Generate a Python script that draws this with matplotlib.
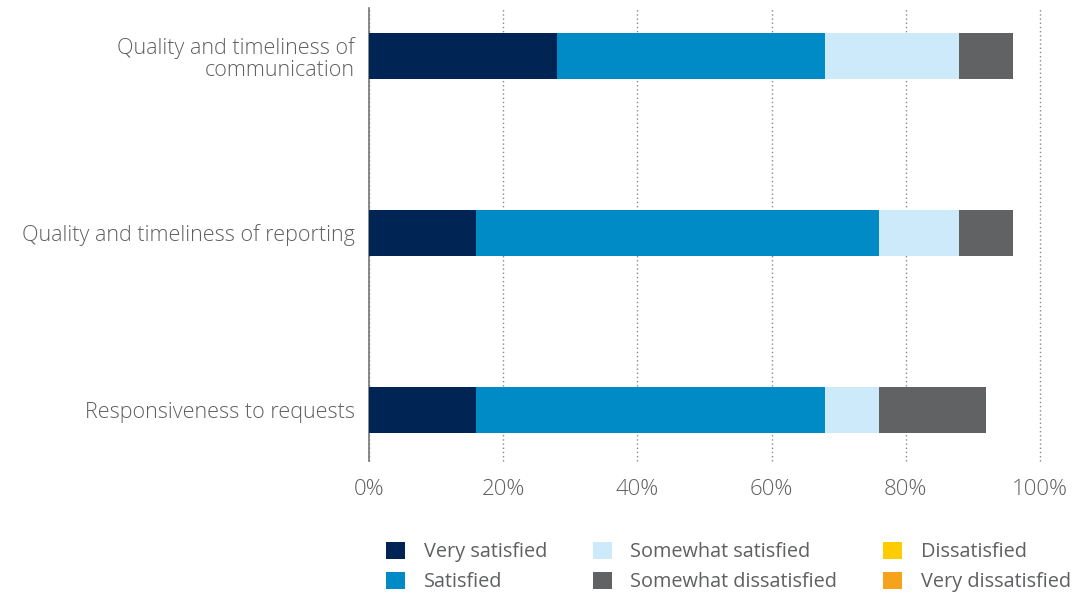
import matplotlib.pyplot as plt
from matplotlib.patches import Patch

plt.rcParams['font.family'] = ['Open Sans', 'DejaVu Sans']

categories = ['Quality and timeliness of\ncommunication',
              'Quality and timeliness of reporting',
              'Responsiveness to requests']
series = ['Very satisfied', 'Satisfied', 'Somewhat satisfied',
          'Somewhat dissatisfied', 'Dissatisfied', 'Very dissatisfied']
very_satisfied = [28, 16, 16]
satisfied = [40, 60, 52]
somewhat_satisfied = [20, 12, 8]
somewhat_dissatisfied = [8, 8, 16]
dissatisfied = [0, 0, 0]
very_dissatisfied = [0, 0, 0]
colors = ['#002554', '#008bc7', '#cceafa', '#616264', '#ffcc00', '#f6a21d']
xticks = [0, 20, 40, 60, 80, 100]

values = [very_satisfied, satisfied, somewhat_satisfied,
          somewhat_dissatisfied, dissatisfied, very_dissatisfied]
text_color = '#5f6062'

fig = plt.figure(figsize=(10.87, 5.97), dpi=100)
ax = fig.add_axes([369 / 1087, 1 - 461 / 597, 671 / 1087, 453 / 597])

ypos = list(range(len(categories)))
left = [0] * len(categories)
for name, vals, c in zip(series, values, colors):
    ax.barh(ypos, vals, left=left, height=0.26, color=c, label=name, zorder=3)
    left = [a + b for a, b in zip(left, vals)]

ax.set_xlim(0, 100)
ax.set_ylim(2.29, -0.27)
ax.set_yticks(ypos)
ax.set_yticklabels(categories, fontsize=15.5, color=text_color, fontweight='light',
                   linespacing=1.05)
ax.set_xticks(xticks)
ax.set_xticklabels([f'{t}%' for t in xticks], fontsize=16, color=text_color, fontweight='light')
ax.tick_params(axis='both', length=0)
ax.tick_params(axis='x', pad=13)
ax.tick_params(axis='y', pad=10)
for s in ['top', 'right', 'bottom']:
    ax.spines[s].set_visible(False)
ax.spines['left'].set_color('#777777')
ax.spines['left'].set_linewidth(1.2)
ax.grid(axis='x', linestyle=(0, (1, 2)), color='#888888', linewidth=1, zorder=0)
for gl in ax.get_xgridlines():
    gl.set_clip_on(False)

handles = [Patch(facecolor=c, edgecolor='none') for c in colors]
leg = fig.legend(handles, series, ncol=3, loc='lower left',
                 bbox_to_anchor=(368 / 1087, -0.022), frameon=False,
                 fontsize=14.3, handlelength=0.95, handleheight=0.95,
                 handletextpad=0.95, columnspacing=2.3, labelspacing=0.5)
for t in leg.get_texts():
    t.set_color(text_color)

fig.savefig('out.png', dpi=100)
